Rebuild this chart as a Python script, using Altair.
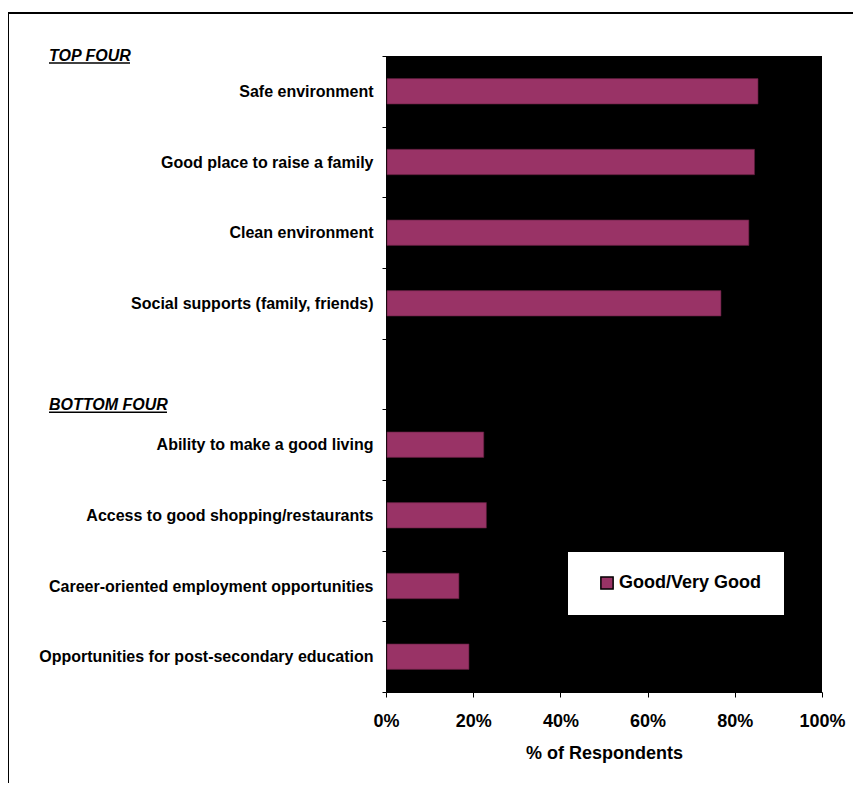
import altair as alt
import pandas as pd

categories = [
    "Safe environment",
    "Good place to raise a family",
    "Clean environment",
    "Social supports (family, friends)",
    " ",
    "Ability to make a good living",
    "Access to good shopping/restaurants",
    "Career-oriented employment opportunities",
    "Opportunities for post-secondary education",
]
values = [85.1, 84.3, 83.0, 76.6, None, 22.2, 22.8, 16.5, 18.8]
series = "Good/Very Good"

headers = ["TOP FOUR", "BOTTOM FOUR"]
header_anchor = ["Safe environment", "Ability to make a good living"]

df = pd.DataFrame({"category": categories, "value": [v / 100 if v is not None else None for v in values]})
df["series"] = series
bars_df = df.dropna()
hdr = pd.DataFrame({"label": headers, "category": header_anchor})

FONT = "Liberation Sans"

yscale = alt.Scale(domain=categories, paddingInner=0, paddingOuter=0)

bars = alt.Chart(bars_df).mark_bar(
    stroke="#5a1d3a", strokeWidth=0.6, xOffset=1, height=alt.RelativeBandSize(0.36)
).encode(
    x=alt.X(
        "value:Q",
        scale=alt.Scale(domain=[0, 1]),
        axis=alt.Axis(
            format=".0%", values=[0, 0.2, 0.4, 0.6, 0.8, 1.0], title="% of Respondents",
            labelFontSize=18, labelFontWeight="bold", labelColor="black", labelFont=FONT,
            titleFontSize=18, titleFontWeight="bold", titleColor="black", titleFont=FONT,
            tickSize=5, tickColor="black", domainColor="black", labelPadding=15, titlePadding=14,
            grid=False, labelFlush=False,
        ),
    ),
    y=alt.Y(
        "category:N", scale=yscale, sort=categories,
        axis=alt.Axis(
            title=None, labelFontSize=16, labelFontWeight="bold", labelColor="black", labelFont=FONT,
            tickSize=4, tickColor="black", tickBand="extent", domainColor="black", labelPadding=9,
            labelLimit=400, grid=False,
        ),
    ),
    color=alt.Color(
        "series:N", scale=alt.Scale(range=["#993366"]),
        legend=alt.Legend(
            title=None, orient="none", legendX=182, legendY=496, fillColor="white",
            padding=22, symbolType="square", symbolSize=150, symbolStrokeColor="black",
            symbolStrokeWidth=1.5, symbolOffset=8, labelFontSize=18, labelFontWeight="bold",
            labelFont=FONT, labelColor="black", labelOffset=3,
        ),
    ),
)


def header_layer(name, dy, ul_offset, ul_width):
    base = alt.Chart(hdr).transform_filter(alt.datum.label == name)
    ypos = alt.Y("category:N", scale=yscale, sort=categories, bandPosition=0)
    txt = base.mark_text(
        align="left", baseline="middle", fontStyle="italic", fontWeight="bold",
        fontSize=16, font=FONT, color="black", dy=dy,
    ).encode(x=alt.value(-337), y=ypos, text="label:N")
    ul = base.mark_rule(color="black", strokeWidth=1.5).encode(
        x=alt.value(-337), x2=alt.value(-337 + ul_width), y=ypos, yOffset=alt.value(ul_offset)
    )
    return txt, ul


t1, u1 = header_layer("TOP FOUR", -0.5, 7, 81)
t2, u2 = header_layer("BOTTOM FOUR", -4.5, 3, 118)

frame = alt.Chart(hdr).mark_rect(
    fill=None, stroke="black", strokeWidth=2, clip=False
).encode(
    x=alt.value(-378), x2=alt.value(700),
    y=alt.value(-43), y2=alt.value(900),
)

chart = alt.layer(frame, bars, t1, u1, t2, u2).properties(
    width=436, height=636,
    background="white",
    autosize=alt.AutoSizeParams(type="none"),
    padding={"left": 378, "top": 48, "right": 31, "bottom": 91},
).configure_view(fill="black", stroke=None)

chart.save("out.html", embed_options={"renderer": "svg", "actions": False})
